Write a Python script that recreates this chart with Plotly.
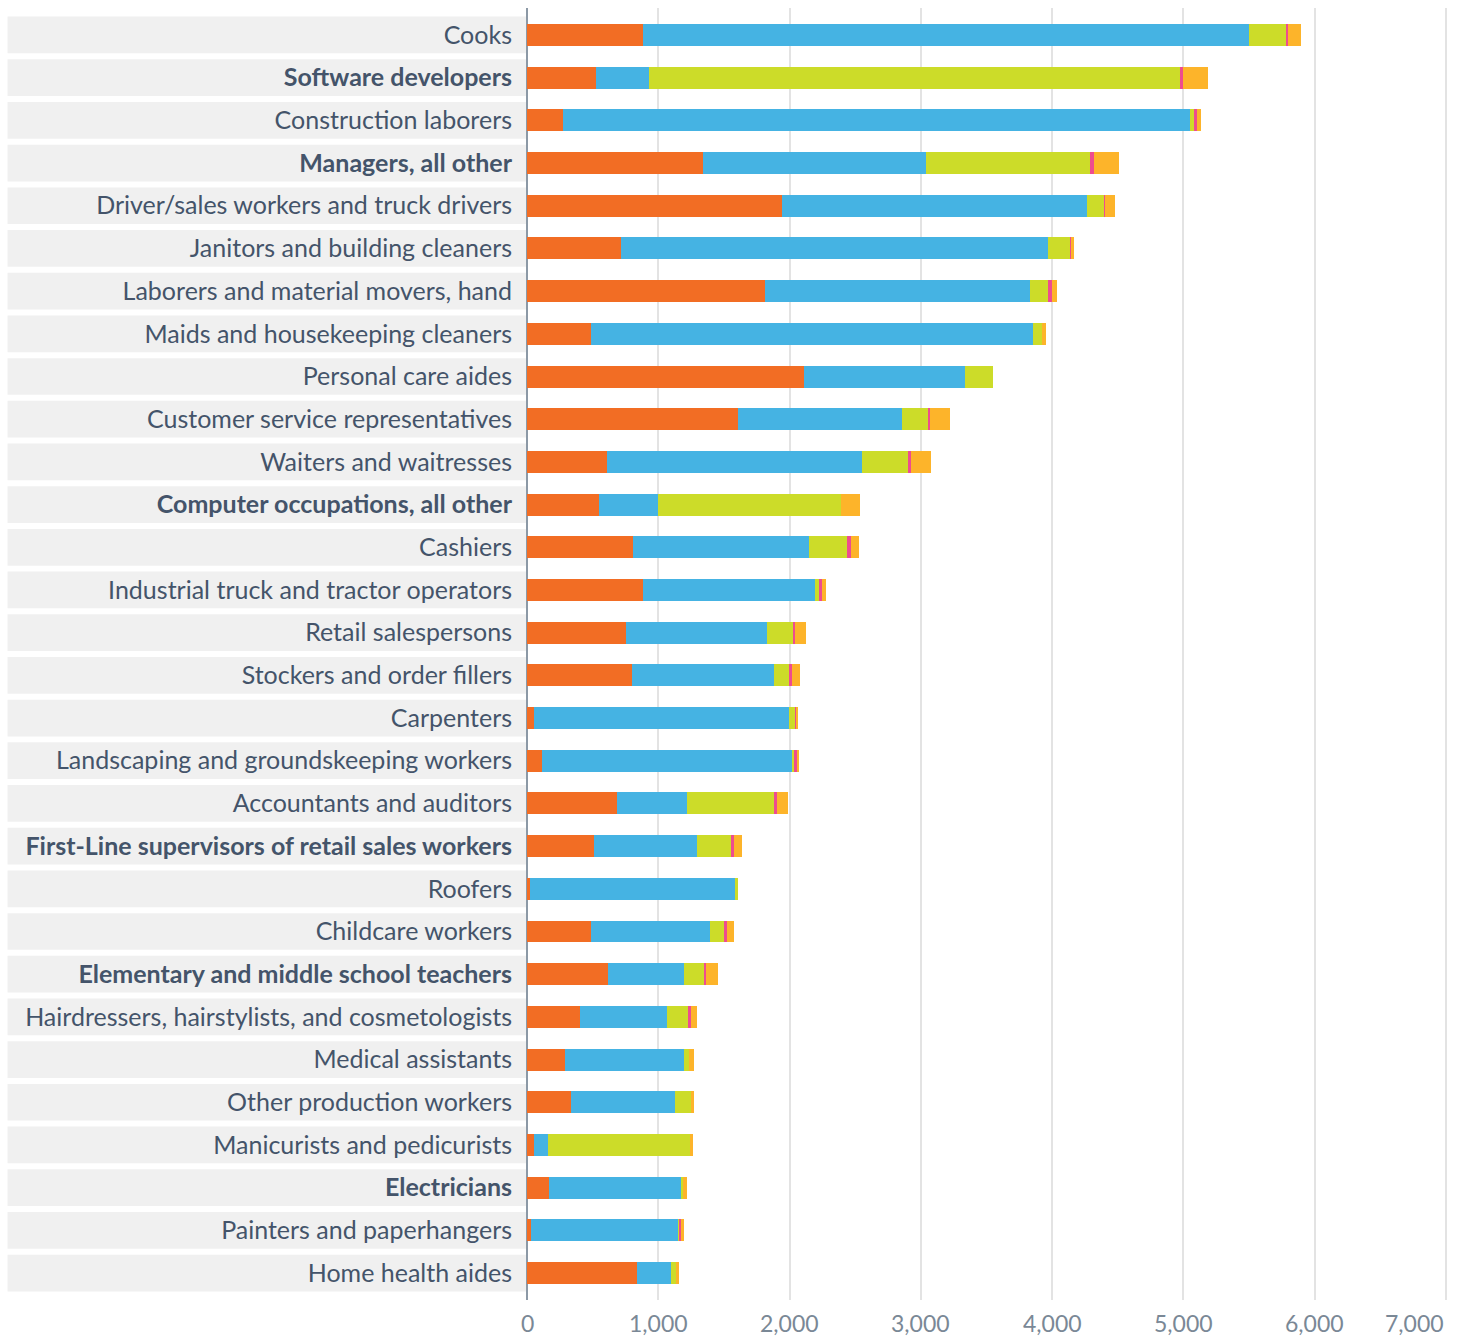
import plotly.graph_objects as go

categories = [
    "Cooks", "Software developers", "Construction laborers", "Managers, all other",
    "Driver/sales workers and truck drivers", "Janitors and building cleaners",
    "Laborers and material movers, hand", "Maids and housekeeping cleaners",
    "Personal care aides", "Customer service representatives", "Waiters and waitresses",
    "Computer occupations, all other", "Cashiers", "Industrial truck and tractor operators",
    "Retail salespersons", "Stockers and order fillers", "Carpenters",
    "Landscaping and groundskeeping workers", "Accountants and auditors",
    "First-Line supervisors of retail sales workers", "Roofers", "Childcare workers",
    "Elementary and middle school teachers", "Hairdressers, hairstylists, and cosmetologists",
    "Medical assistants", "Other production workers", "Manicurists and pedicurists",
    "Electricians", "Painters and paperhangers", "Home health aides",
]
bold_categories = [
    "Software developers", "Managers, all other", "Computer occupations, all other",
    "First-Line supervisors of retail sales workers", "Elementary and middle school teachers",
    "Electricians",
]

series_1 = [885, 528, 277, 1337, 1943, 715, 1811, 487, 2106, 1610, 606, 548, 806, 880, 757,
            796, 57, 118, 683, 514, 20, 487, 620, 407, 290, 337, 57, 171, 27, 837]
series_2 = [4615, 404, 4773, 1704, 2322, 3255, 2021, 3368, 1231, 1249, 1943, 449, 1345, 1317, 1073,
            1088, 1941, 1903, 538, 777, 1567, 905, 573, 662, 903, 793, 106, 999, 1130, 259]
series_3 = [278, 4043, 30, 1248, 130, 168, 138, 69, 209, 198, 350, 1397, 290, 30, 198,
            114, 46, 15, 663, 259, 23, 115, 159, 160, 38, 122, 1082, 20, 8, 38]
series_4 = [17, 20, 23, 31, 8, 8, 30, 0, 0, 15, 23, 0, 23, 23, 16,
            23, 8, 24, 23, 25, 0, 15, 15, 23, 0, 0, 0, 0, 15, 0]
series_5 = [100, 191, 32, 190, 76, 22, 38, 31, 0, 152, 152, 145, 61, 31, 84,
            61, 15, 7, 84, 61, 0, 53, 91, 46, 44, 23, 22, 30, 15, 23]

series_names = ["Series 1", "Series 2", "Series 3", "Series 4", "Series 5"]
series_values = [series_1, series_2, series_3, series_4, series_5]
colors = ["#F26D24", "#45B3E3", "#CCDC29", "#EE4C8F", "#FDB42A"]

x_ticks = [0, 1000, 2000, 3000, 4000, 5000, 6000, 7000]
x_tick_labels = ["0", "1,000", "2,000", "3,000", "4,000", "5,000", "6,000", "7,000"]

fig = go.Figure()
for name, vals, col in zip(series_names, series_values, colors):
    fig.add_trace(go.Bar(
        y=categories, x=vals, name=name, orientation="h",
        marker=dict(color=col, line=dict(width=0)), width=0.515,
    ))

# grey label bands
for i, c in enumerate(categories):
    fig.add_shape(type="rect", xref="paper", yref="y",
                  x0=-0.564, x1=0, y0=i - 0.43, y1=i + 0.43,
                  fillcolor="#F0F0F0", line=dict(width=0), layer="below")

# x tick labels (last one right-aligned to stay inside the page)
for v, t in zip(x_ticks, x_tick_labels):
    fig.add_annotation(
        x=v, xref="x", y=0, yref="paper", text=t, showarrow=False,
        xanchor="right" if v == x_ticks[-1] else "center",
        yanchor="middle", yshift=-23,
        font=dict(size=23, color="#7A8896", family="Lato"),
    )

ticktext = [f"<b>{c}</b>" if c in bold_categories else c for c in categories]

fig.update_layout(
    width=1461, height=1339,
    barmode="stack", showlegend=False,
    plot_bgcolor="white", paper_bgcolor="white",
    margin=dict(l=527, r=13, t=8, b=39),
    font=dict(family="Lato", color="#44546A", size=25),
)
fig.update_yaxes(
    type="category", categoryorder="array", categoryarray=categories,
    tickmode="array", tickvals=categories, ticktext=ticktext,
    range=[29.632, -0.632], showgrid=False, ticks="",
    ticklabelstandoff=14, tickfont=dict(size=25, color="#44546A", family="Lato"),
    showline=False, zeroline=False,
)
fig.update_xaxes(
    range=[0, 7015], tickmode="array", tickvals=x_ticks,
    showticklabels=False, showgrid=True, gridcolor="#E3E3E3", gridwidth=2,
    zeroline=True, zerolinecolor="#8C99A6", zerolinewidth=1.5,
    showline=False, ticks="",
)

fig.write_html(
    "out.html",
    config={"displayModeBar": False},
    post_script="document.body.style.margin='0';document.body.style.overflow='hidden';",
)
